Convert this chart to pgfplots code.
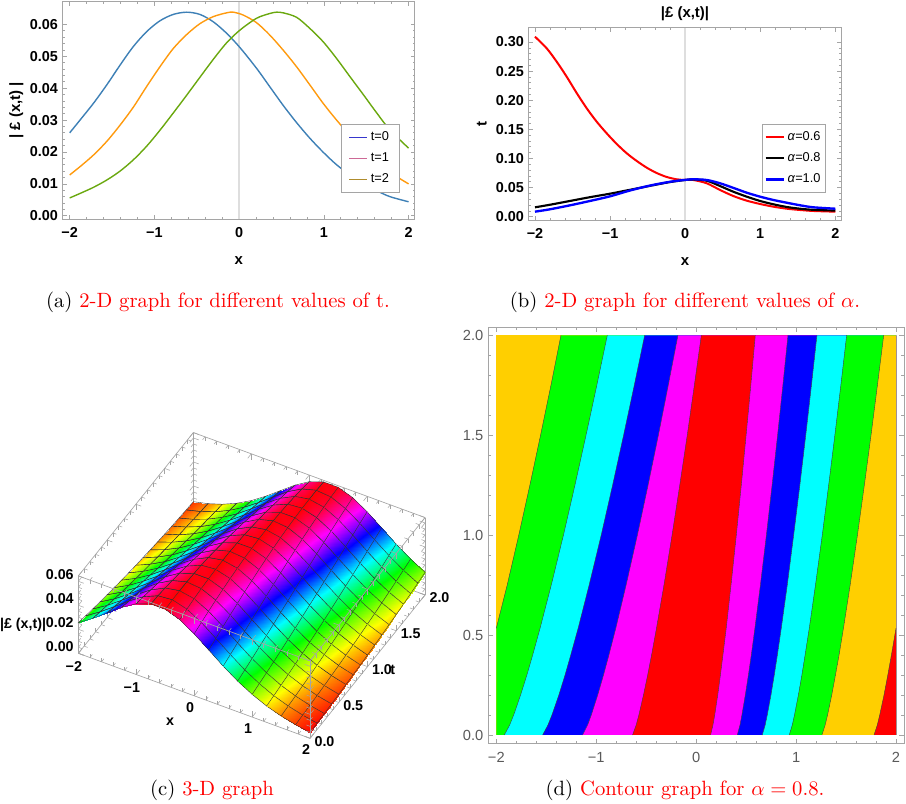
\documentclass[border=0pt]{standalone}
\usepackage{fontspec}
\usepackage{pgfplots}
\usepackage{pgfplotstable}
\pgfplotsset{compat=1.18}
\newfontfamily\hv{Liberation Sans}
\definecolor{frameGrey}{RGB}{165,165,165}
\definecolor{zeroGrey}{RGB}{222,222,222}
\definecolor{wBlue}{RGB}{62,128,182}
\definecolor{wOrange}{RGB}{255,154,14}
\definecolor{wGreen}{RGB}{106,168,15}
\definecolor{legA}{RGB}{55,55,205}
\definecolor{legB}{RGB}{205,105,150}
\definecolor{legC}{RGB}{175,140,45}
\definecolor{gold}{RGB}{255,207,0}
\definecolor{hGreen}{RGB}{0,255,0}
\definecolor{hCyan}{RGB}{0,255,255}
\definecolor{hBlue}{RGB}{0,0,255}
\definecolor{hMag}{RGB}{255,0,255}
\definecolor{hRed}{RGB}{255,0,0}
\newcommand{\capt}[2]{(#1) \textcolor{red}{#2}}

% boundaries of the contour bands, x at each t
\pgfplotstableread{
t     b1     b2     b3     b4     b5     b6    b7    b8    b9    b10   b11
0     -2     -1.920 -1.536 -1.136 -0.636 0.145 0.412 0.662 0.932 1.259 1.780
0.05  -2     -1.866 -1.483 -1.086 -0.600 0.168 0.439 0.691 0.962 1.291 1.813
0.1   -2     -1.826 -1.443 -1.049 -0.573 0.186 0.458 0.712 0.984 1.315 1.837
0.2   -2     -1.757 -1.374 -0.985 -0.527 0.216 0.492 0.749 1.023 1.357 1.880
0.3   -2     -1.694 -1.312 -0.927 -0.485 0.243 0.523 0.782 1.058 1.394 1.918
0.4   -2     -1.636 -1.255 -0.873 -0.446 0.268 0.552 0.813 1.090 1.430 1.954
0.534 -2     -1.562 -1.181 -0.804 -0.397 0.301 0.588 0.852 1.132 1.474 2
0.75  -1.891 -1.450 -1.071 -0.701 -0.322 0.349 0.643 0.912 1.194 1.541 2
1     -1.775 -1.328 -0.950 -0.588 -0.241 0.402 0.703 0.976 1.262 1.614 2
1.25  -1.664 -1.213 -0.836 -0.481 -0.164 0.452 0.760 1.038 1.326 1.683 2
1.5   -1.557 -1.102 -0.726 -0.378 -0.089 0.500 0.815 1.097 1.388 1.750 2
1.75  -1.453 -0.994 -0.619 -0.279 -0.018 0.547 0.868 1.154 1.448 1.814 2
2     -1.353 -0.889 -0.515 -0.182 0.052 0.592 0.919 1.209 1.506 1.877 2
}\bands

\pgfplotsset{
  frame2d/.style={
    scale only axis, clip=false,
    axis line style={frameGrey, line width=0.7pt},
    tick style={frameGrey, line width=0.5pt},
    tick align=inside,
    major tick length=3pt, minor tick length=1.6pt,
    xtick={-2,-1,0,1,2}, xticklabels={−2,−1,0,1,2},
    minor xtick={-1.8,-1.6,-1.4,-1.2,-0.8,-0.6,-0.4,-0.2,0.2,0.4,0.6,0.8,1.2,1.4,1.6,1.8},
    tick label style={font=\hv\bfseries\fontsize{10.8}{12}\selectfont},
    x tick label style={yshift=-3pt},
    label style={font=\hv\bfseries\fontsize{11.2}{13}\selectfont},
    xlabel shift=7pt,
    legend style={draw=frameGrey, line width=0.7pt, fill=white,
      font=\hv\fontsize{9.6}{11}\selectfont, inner xsep=5.5pt, inner ysep=3.5pt,
      row sep=3.6pt, anchor=north east,
      legend image code/.code={\draw[##1] (0cm,0cm) -- (0.48cm,0cm);}},
    legend cell align=left,
  },
}

\begin{document}
\begin{tikzpicture}
\path[use as bounding box] (0,0) rectangle (679.5pt,602.25pt);

% (a)
\begin{axis}[frame2d,
  at={(47pt,438pt)}, anchor=south west, width=264.2pt, height=163pt,
  xmin=-2.083, xmax=2.075, ymin=-0.001, ymax=0.0671,
  ytick={0,0.01,0.02,0.03,0.04,0.05,0.06},
  yticklabels={0.00,0.01,0.02,0.03,0.04,0.05,0.06},
  minor y tick num=4,
  xlabel={x}, ylabel={| £ (x,t) |}, ylabel shift=-2pt,
  legend style={at={(axis description cs:0.956,0.437)}},
]
\addlegendimage{legA, line width=0.9pt}
\addlegendentry{t=0}
\addlegendimage{legB, line width=1.1pt}
\addlegendentry{t=1}
\addlegendimage{legC, line width=0.9pt}
\addlegendentry{t=2}
\addplot[zeroGrey, line width=1pt, forget plot] coordinates {(0,-0.001) (0,0.0671)};
\addplot[wBlue, line width=1.05pt, smooth, forget plot] coordinates {
(-2,0.0260) (-1.878,0.0300) (-1.721,0.0352) (-1.563,0.0410) (-1.406,0.0472) (-1.25,0.0530)
(-1.092,0.0577) (-0.935,0.0611) (-0.778,0.0631) (-0.619,0.0638) (-0.463,0.0631) (-0.306,0.0608)
(-0.148,0.0572) (0.01,0.0527) (0.206,0.0462) (0.363,0.0404) (0.52,0.0346) (0.678,0.0292)
(0.835,0.0243) (0.993,0.0199) (1.15,0.0160) (1.308,0.0128) (1.465,0.0101) (1.622,0.0079)
(1.78,0.0060) (2,0.0044)};
\addplot[wOrange, line width=1.05pt, smooth, forget plot] coordinates {
(-2,0.0128) (-1.878,0.0154) (-1.721,0.0190) (-1.563,0.0233) (-1.406,0.0284) (-1.25,0.0340)
(-1.092,0.0405) (-0.935,0.0467) (-0.778,0.0524) (-0.619,0.0568) (-0.463,0.0602) (-0.306,0.0624)
(-0.148,0.0636) (-0.069,0.0638) (0.048,0.0629) (0.206,0.0605) (0.363,0.0566) (0.52,0.0519)
(0.678,0.0467) (0.835,0.0410) (0.993,0.0352) (1.15,0.0300) (1.308,0.0252) (1.465,0.0208)
(1.622,0.0170) (1.78,0.0136) (2,0.0100)};
\addplot[wGreen, line width=1.05pt, smooth, forget plot] coordinates {
(-2,0.0056) (-1.878,0.0070) (-1.721,0.0089) (-1.563,0.0112) (-1.406,0.0140) (-1.25,0.0175)
(-1.092,0.0218) (-0.935,0.0268) (-0.778,0.0322) (-0.619,0.0378) (-0.463,0.0434) (-0.306,0.0490)
(-0.148,0.0542) (0.01,0.0582) (0.206,0.0619) (0.363,0.0634) (0.44,0.0638) (0.52,0.0636)
(0.678,0.0622) (0.835,0.0587) (0.993,0.0545) (1.15,0.0493) (1.308,0.0436) (1.465,0.0380)
(1.622,0.0323) (1.78,0.0269) (2,0.0212)};
\end{axis}
\node[scale=1.55] at (163.5pt,375.5pt) {\capt{a}{2-D graph for different values of t.}};

% (b)
\begin{axis}[frame2d,
  at={(396.5pt,437.25pt)}, anchor=south west, width=234.5pt, height=144.2pt,
  xmin=-2.084, xmax=2.08, ymin=-0.0057, ymax=0.3246,
  ytick={0,0.05,0.1,0.15,0.2,0.25,0.3},
  yticklabels={0.00,0.05,0.10,0.15,0.20,0.25,0.30},
  minor y tick num=4,
  xlabel={x}, ylabel={t}, title={|£ (x,t)|},
  title style={font=\hv\bfseries\fontsize{11.2}{13}\selectfont, yshift=-4pt},
  legend style={at={(axis description cs:0.952,0.499)}, inner xsep=2pt},
]
\addlegendimage{red, line width=1.6pt}
\addlegendentry{\textit{α}=0.6}
\addlegendimage{black, line width=1.6pt}
\addlegendentry{\textit{α}=0.8}
\addlegendimage{blue, line width=1.6pt}
\addlegendentry{\textit{α}=1.0}
\addplot[zeroGrey, line width=1pt, forget plot] coordinates {(0,-0.0057) (0,0.3246)};
\addplot[red, line width=1.5pt, smooth, forget plot] coordinates {
(-2,0.3092) (-1.844,0.2892) (-1.711,0.2663) (-1.578,0.2405) (-1.445,0.2125) (-1.311,0.1862)
(-1.178,0.1632) (-1.045,0.1432) (-0.912,0.1250) (-0.778,0.1089) (-0.645,0.0957) (-0.512,0.0842)
(-0.379,0.0750) (-0.246,0.0682) (-0.113,0.0642) (0,0.0630) (0.108,0.0630) (0.287,0.0574)
(0.464,0.0459) (0.641,0.0355) (0.82,0.0275) (0.997,0.0218) (1.174,0.0172) (1.352,0.0137)
(1.529,0.0115) (1.706,0.0098) (2,0.0086)};
\addplot[black, line width=1.6pt, smooth, forget plot] coordinates {
(-2,0.0161) (-1.8,0.0205) (-1.534,0.0270) (-1.267,0.0335) (-1,0.0395) (-0.734,0.0462) (-0.467,0.0530)
(-0.2,0.0595) (0,0.0630) (0.108,0.0640) (0.287,0.0618) (0.464,0.0527) (0.641,0.0429) (0.82,0.0344)
(0.997,0.0270) (1.174,0.0213) (1.352,0.0167) (1.529,0.0137) (1.706,0.0118) (2,0.0105)};
\addplot[blue, line width=1.75pt, smooth, forget plot] coordinates {
(-2,0.0086) (-1.8,0.0127) (-1.534,0.0195) (-1.267,0.0270) (-1,0.0350) (-0.734,0.0450) (-0.467,0.0535)
(-0.2,0.0600) (0,0.0632) (0.108,0.0642) (0.287,0.0630) (0.464,0.0574) (0.641,0.0495) (0.82,0.0412)
(0.997,0.0344) (1.174,0.0287) (1.352,0.0240) (1.529,0.0196) (1.706,0.0161) (2,0.0137)};
\end{axis}
\node[scale=1.55] at (513.75pt,375.5pt) {\capt{b}{2-D graph for different values of $\alpha$.}};

% (c)
\begin{axis}[
  at={(145.65pt,80.4pt)}, anchor=origin,
  x={(43.44pt,-15.94pt)}, y={(43.13pt,53.75pt)}, z={(0pt,900pt)},
  xmin=-2, xmax=2, ymin=0, ymax=2, zmin=0, zmax=0.0645,
  clip=false, 3d box=complete,
  axis line style={frameGrey, line width=0.5pt},
  tick style={frameGrey, line width=0.4pt},
  xtick={-2,-1,0,1,2}, xticklabels={−2,−1,0,1,2},
  ytick={0,0.5,1,1.5,2}, yticklabels={0.0,0.5,1.0,1.5,2.0},
  ztick={0,0.02,0.04,0.06}, zticklabels={0.00,0.02,0.04,0.06},
  scaled z ticks=false,
  minor x tick num=4, minor y tick num=4, minor z tick num=3,
  tick label style={font=\hv\bfseries\fontsize{10.7}{12}\selectfont},
  y tick label style={xshift=3pt, yshift=9pt},
  z tick label style={yshift=9pt},
  xlabel={x}, ylabel={t}, zlabel={|£ (x,t)|},
  every axis x label/.style={at={(axis cs:-0.042,-0.378,0)}, anchor=center, font=\hv\bfseries\fontsize{10.7}{12}\selectfont},
  every axis y label/.style={at={(axis cs:2.372,1.063,0)}, anchor=center, font=\hv\bfseries\fontsize{10.7}{12}\selectfont},
  every axis z label/.style={at={(axis cs:-3.04,0.087,0)}, anchor=center, font=\hv\bfseries\fontsize{10.7}{12}\selectfont},
  colormap={hues}{rgb(0pt)=(1,0,0); rgb(1pt)=(1,1,0); rgb(2pt)=(0,1,0); rgb(3pt)=(0,1,1); rgb(4pt)=(0,0,1); rgb(5pt)=(1,0,1); rgb(6pt)=(1,0,0)},
  point meta min=0.0048, point meta max=0.0638,
]
\addplot3[surf, shader=faceted interp, faceted color=black!80, line width=0.3pt,
  z buffer=sort, mesh/rows=17, mesh/cols=17, mesh/ordering=x varies] coordinates {
(-2,0,.0255) (-1.75,0,.0336) (-1.5,0,.0426) (-1.25,0,.0516) (-1,0,.0590) (-.75,0,.0632) (-.5,0,.0632) (-.25,0,.0590) (0,0,.0516) (.25,0,.0426) (.5,0,.0336) (.75,0,.0255) (1,0,.0189) (1.25,0,.0136) (1.5,0,.0097) (1.75,0,.0069) (2,0,.0048)
(-2,.125,.0237) (-1.75,.125,.0315) (-1.5,.125,.0403) (-1.25,.125,.0495) (-1,.125,.0574) (-.75,.125,.0626) (-.5,.125,.0637) (-.25,.125,.0604) (0,.125,.0537) (.25,.125,.0449) (.5,.125,.0358) (.75,.125,.0274) (1,.125,.0204) (1.25,.125,.0148) (1.5,.125,.0106) (1.75,.125,.0075) (2,.125,.0052)
(-2,.25,.0220) (-1.75,.25,.0294) (-1.5,.25,.0381) (-1.25,.25,.0472) (-1,.25,.0556) (-.75,.25,.0616) (-.5,.25,.0638) (-.25,.25,.0616) (0,.25,.0556) (.25,.25,.0472) (.5,.25,.0381) (.75,.25,.0294) (1,.25,.0220) (1.25,.25,.0161) (1.5,.25,.0115) (1.75,.25,.0082) (2,.25,.0057)
(-2,.375,.0204) (-1.75,.375,.0274) (-1.5,.375,.0358) (-1.25,.375,.0449) (-1,.375,.0537) (-.75,.375,.0604) (-.5,.375,.0637) (-.25,.375,.0626) (0,.375,.0574) (.25,.375,.0495) (.5,.375,.0403) (.75,.375,.0315) (1,.375,.0237) (1.25,.375,.0174) (1.5,.375,.0126) (1.75,.375,.0089) (2,.375,.0063)
(-2,.5,.0189) (-1.75,.5,.0255) (-1.5,.5,.0336) (-1.25,.5,.0426) (-1,.5,.0516) (-.75,.5,.0590) (-.5,.5,.0632) (-.25,.5,.0632) (0,.5,.0590) (.25,.5,.0516) (.5,.5,.0426) (.75,.5,.0336) (1,.5,.0255) (1.25,.5,.0189) (1.5,.5,.0136) (1.75,.5,.0097) (2,.5,.0069)
(-2,.625,.0174) (-1.75,.625,.0237) (-1.5,.625,.0315) (-1.25,.625,.0403) (-1,.625,.0495) (-.75,.625,.0574) (-.5,.625,.0626) (-.25,.625,.0637) (0,.625,.0604) (.25,.625,.0537) (.5,.625,.0449) (.75,.625,.0358) (1,.625,.0274) (1.25,.625,.0204) (1.5,.625,.0148) (1.75,.625,.0106) (2,.625,.0075)
(-2,.75,.0161) (-1.75,.75,.0220) (-1.5,.75,.0294) (-1.25,.75,.0381) (-1,.75,.0472) (-.75,.75,.0556) (-.5,.75,.0616) (-.25,.75,.0638) (0,.75,.0616) (.25,.75,.0556) (.5,.75,.0472) (.75,.75,.0381) (1,.75,.0294) (1.25,.75,.0220) (1.5,.75,.0161) (1.75,.75,.0115) (2,.75,.0082)
(-2,.875,.0148) (-1.75,.875,.0204) (-1.5,.875,.0274) (-1.25,.875,.0358) (-1,.875,.0449) (-.75,.875,.0537) (-.5,.875,.0604) (-.25,.875,.0637) (0,.875,.0626) (.25,.875,.0574) (.5,.875,.0495) (.75,.875,.0403) (1,.875,.0315) (1.25,.875,.0237) (1.5,.875,.0174) (1.75,.875,.0126) (2,.875,.0089)
(-2,1,.0136) (-1.75,1,.0189) (-1.5,1,.0255) (-1.25,1,.0336) (-1,1,.0426) (-.75,1,.0516) (-.5,1,.0590) (-.25,1,.0632) (0,1,.0632) (.25,1,.0590) (.5,1,.0516) (.75,1,.0426) (1,1,.0336) (1.25,1,.0255) (1.5,1,.0189) (1.75,1,.0136) (2,1,.0097)
(-2,1.125,.0126) (-1.75,1.125,.0174) (-1.5,1.125,.0237) (-1.25,1.125,.0315) (-1,1.125,.0403) (-.75,1.125,.0495) (-.5,1.125,.0574) (-.25,1.125,.0626) (0,1.125,.0637) (.25,1.125,.0604) (.5,1.125,.0537) (.75,1.125,.0449) (1,1.125,.0358) (1.25,1.125,.0274) (1.5,1.125,.0204) (1.75,1.125,.0148) (2,1.125,.0106)
(-2,1.25,.0115) (-1.75,1.25,.0161) (-1.5,1.25,.0220) (-1.25,1.25,.0294) (-1,1.25,.0381) (-.75,1.25,.0472) (-.5,1.25,.0556) (-.25,1.25,.0616) (0,1.25,.0638) (.25,1.25,.0616) (.5,1.25,.0556) (.75,1.25,.0472) (1,1.25,.0381) (1.25,1.25,.0294) (1.5,1.25,.0220) (1.75,1.25,.0161) (2,1.25,.0115)
(-2,1.375,.0106) (-1.75,1.375,.0148) (-1.5,1.375,.0204) (-1.25,1.375,.0274) (-1,1.375,.0358) (-.75,1.375,.0449) (-.5,1.375,.0537) (-.25,1.375,.0604) (0,1.375,.0637) (.25,1.375,.0626) (.5,1.375,.0574) (.75,1.375,.0495) (1,1.375,.0403) (1.25,1.375,.0315) (1.5,1.375,.0237) (1.75,1.375,.0174) (2,1.375,.0126)
(-2,1.5,.0097) (-1.75,1.5,.0136) (-1.5,1.5,.0189) (-1.25,1.5,.0255) (-1,1.5,.0336) (-.75,1.5,.0426) (-.5,1.5,.0516) (-.25,1.5,.0590) (0,1.5,.0632) (.25,1.5,.0632) (.5,1.5,.0590) (.75,1.5,.0516) (1,1.5,.0426) (1.25,1.5,.0336) (1.5,1.5,.0255) (1.75,1.5,.0189) (2,1.5,.0136)
(-2,1.625,.0089) (-1.75,1.625,.0126) (-1.5,1.625,.0174) (-1.25,1.625,.0237) (-1,1.625,.0315) (-.75,1.625,.0403) (-.5,1.625,.0495) (-.25,1.625,.0574) (0,1.625,.0626) (.25,1.625,.0637) (.5,1.625,.0604) (.75,1.625,.0537) (1,1.625,.0449) (1.25,1.625,.0358) (1.5,1.625,.0274) (1.75,1.625,.0204) (2,1.625,.0148)
(-2,1.75,.0082) (-1.75,1.75,.0115) (-1.5,1.75,.0161) (-1.25,1.75,.0220) (-1,1.75,.0294) (-.75,1.75,.0381) (-.5,1.75,.0472) (-.25,1.75,.0556) (0,1.75,.0616) (.25,1.75,.0638) (.5,1.75,.0616) (.75,1.75,.0556) (1,1.75,.0472) (1.25,1.75,.0381) (1.5,1.75,.0294) (1.75,1.75,.0220) (2,1.75,.0161)
(-2,1.875,.0075) (-1.75,1.875,.0106) (-1.5,1.875,.0148) (-1.25,1.875,.0204) (-1,1.875,.0274) (-.75,1.875,.0358) (-.5,1.875,.0449) (-.25,1.875,.0537) (0,1.875,.0604) (.25,1.875,.0637) (.5,1.875,.0626) (.75,1.875,.0574) (1,1.875,.0495) (1.25,1.875,.0403) (1.5,1.875,.0315) (1.75,1.875,.0237) (2,1.875,.0174)
(-2,2,.0069) (-1.75,2,.0097) (-1.5,2,.0136) (-1.25,2,.0189) (-1,2,.0255) (-.75,2,.0336) (-.5,2,.0426) (-.25,2,.0516) (0,2,.0590) (.25,2,.0632) (.5,2,.0632) (.75,2,.0590) (1,2,.0516) (1.25,2,.0426) (1.5,2,.0336) (1.75,2,.0255) (2,2,.0189)
};
\end{axis}
\node[scale=1.55] at (159pt,9.75pt) {\capt{c}{3-D graph}};

% (d)
\begin{axis}[frame2d,
  at={(366pt,44.8pt)}, anchor=south west, width=312pt, height=312pt,
  xmin=-2.083, xmax=2.08, ymin=-0.0416, ymax=2.04,
  major tick length=3.5pt, minor tick length=2pt,
  ytick={0,0.5,1,1.5,2}, yticklabels={0.0,0.5,1.0,1.5,2.0},
  minor y tick num=4,
  tick label style={font=\hv\fontsize{11}{12}\selectfont, color=black!65},
]
\addplot[gold, fill=gold, draw=none, forget plot] coordinates {(-2,0) (-2,2) (2,2) (2,0)} -- cycle;
\addplot[hGreen, fill=hGreen, draw=none, forget plot] table[x=b1,y=t] {\bands} -- (axis cs:2,2) -- (axis cs:2,0) -- cycle;
\addplot[hCyan, fill=hCyan, draw=none, forget plot] table[x=b2,y=t] {\bands} -- (axis cs:2,2) -- (axis cs:2,0) -- cycle;
\addplot[hBlue, fill=hBlue, draw=none, forget plot] table[x=b3,y=t] {\bands} -- (axis cs:2,2) -- (axis cs:2,0) -- cycle;
\addplot[hMag, fill=hMag, draw=none, forget plot] table[x=b4,y=t] {\bands} -- (axis cs:2,2) -- (axis cs:2,0) -- cycle;
\addplot[hRed, fill=hRed, draw=none, forget plot] table[x=b5,y=t] {\bands} -- (axis cs:2,2) -- (axis cs:2,0) -- cycle;
\addplot[hMag, fill=hMag, draw=none, forget plot] table[x=b6,y=t] {\bands} -- (axis cs:2,2) -- (axis cs:2,0) -- cycle;
\addplot[hBlue, fill=hBlue, draw=none, forget plot] table[x=b7,y=t] {\bands} -- (axis cs:2,2) -- (axis cs:2,0) -- cycle;
\addplot[hCyan, fill=hCyan, draw=none, forget plot] table[x=b8,y=t] {\bands} -- (axis cs:2,2) -- (axis cs:2,0) -- cycle;
\addplot[hGreen, fill=hGreen, draw=none, forget plot] table[x=b9,y=t] {\bands} -- (axis cs:2,2) -- (axis cs:2,0) -- cycle;
\addplot[gold, fill=gold, draw=none, forget plot] table[x=b10,y=t] {\bands} -- (axis cs:2,2) -- (axis cs:2,0) -- cycle;
\addplot[hRed, fill=hRed, draw=none, forget plot] table[x=b11,y=t] {\bands} -- (axis cs:2,2) -- (axis cs:2,0) -- cycle;
% thin contour lines over the fills
\pgfplotsinvokeforeach{b2,b3,b4,b5,b6,b7,b8,b9,b10}{
  \addplot[black!75, line width=0.3pt, forget plot] table[x=#1,y=t] {\bands};
}
\addplot[black!75, line width=0.3pt, forget plot, skip coords between index={0}{6}] table[x=b1,y=t] {\bands};
\addplot[black!75, line width=0.3pt, forget plot, skip coords between index={7}{13}] table[x=b11,y=t] {\bands};
\end{axis}
\node[scale=1.55] at (513.75pt,9.75pt) {\capt{d}{Contour graph for $\alpha=0.8$.}};
\end{tikzpicture}
\end{document}
